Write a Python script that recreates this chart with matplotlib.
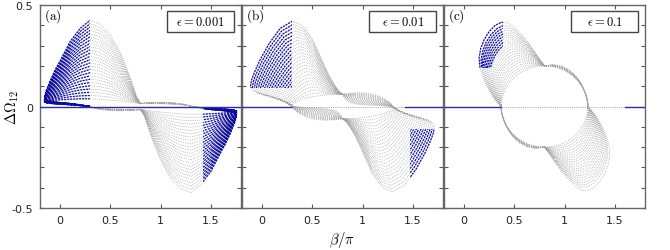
import numpy as np
import matplotlib
matplotlib.use('Agg')
import matplotlib.pyplot as plt
from matplotlib.patches import Rectangle

plt.rcParams['mathtext.fontset'] = 'cm'
plt.rcParams['axes.unicode_minus'] = False

# quarter of a unit ellipse, from the left vertex up to the top (5 deg steps)
arc_x = [-1.0, -0.9962, -0.9848, -0.9659, -0.9397, -0.9063, -0.8660, -0.8192, -0.7660, -0.7071,
         -0.6428, -0.5736, -0.5, -0.4226, -0.3420, -0.2588, -0.1736, -0.0872, 0.0]
arc_y = [0.0, 0.0872, 0.1736, 0.2588, 0.3420, 0.4226, 0.5, 0.5736, 0.6428, 0.7071,
         0.7660, 0.8192, 0.8660, 0.9063, 0.9397, 0.9659, 0.9848, 0.9962, 1.0]

eps_labels = ['0.001', '0.01', '0.1']
panel_tags = ['(a)', '(b)', '(c)']

# peak heights of the nested curves
levels_a = [0.040, 0.056, 0.072, 0.088, 0.104, 0.120, 0.136, 0.152, 0.168, 0.184, 0.200, 0.216, 0.232,
            0.248, 0.264, 0.280, 0.296, 0.312, 0.328, 0.344, 0.360, 0.376, 0.392, 0.408, 0.425]
levels_b = [0.060, 0.075, 0.090, 0.105, 0.120, 0.135, 0.150, 0.165, 0.180, 0.195, 0.210, 0.225, 0.240,
            0.255, 0.270, 0.285, 0.300, 0.315, 0.330, 0.345, 0.360, 0.375, 0.390, 0.405, 0.420]
levels_c = [0.200, 0.210, 0.220, 0.230, 0.240, 0.250, 0.260, 0.270, 0.280, 0.290, 0.300, 0.310,
            0.320, 0.330, 0.340, 0.350, 0.360, 0.370, 0.380, 0.390, 0.400, 0.415]

# outer loop of the upper family (beta/pi, dOmega12)
loop_a_x = [0.30, 0.12, -0.05, -0.13, -0.155, -0.14, -0.10, -0.05, 0.00, 0.10, 0.20, 0.30, 0.40, 0.50,
            0.60, 0.67, 0.72, 0.76, 0.80]
loop_a_y = [0.000, 0.014, 0.022, 0.030, 0.045, 0.075, 0.125, 0.180, 0.225, 0.320, 0.385, 0.425, 0.405,
            0.355, 0.265, 0.180, 0.110, 0.050, 0.015]
# innermost loop of panel (a)
inner_a_y = [0.000, 0.008, 0.013, 0.017, 0.021, 0.025, 0.028, 0.031, 0.033, 0.036, 0.038, 0.038, 0.036,
             0.032, 0.027, 0.023, 0.020, 0.017, 0.015]

loop_b_x = [0.30, 0.18, 0.05, -0.05, -0.10, -0.115, -0.105, -0.075, -0.02, 0.07, 0.18, 0.30, 0.40, 0.50,
            0.60, 0.66, 0.71, 0.76, 0.80]
loop_b_y = [0.000, 0.035, 0.055, 0.066, 0.080, 0.100, 0.130, 0.170, 0.230, 0.310, 0.385, 0.420, 0.400,
            0.335, 0.225, 0.160, 0.115, 0.078, 0.060]

loop_c_x = [0.37, 0.32, 0.27, 0.22, 0.18, 0.155, 0.150, 0.165, 0.20, 0.25, 0.31, 0.37, 0.43, 0.50,
            0.57, 0.63, 0.69, 0.75, 0.80]
loop_c_y = [0.000, 0.025, 0.060, 0.105, 0.150, 0.200, 0.240, 0.285, 0.330, 0.370, 0.400, 0.415, 0.412,
            0.390, 0.355, 0.320, 0.280, 0.235, 0.200]

# fan right of the junction: outer edge (and inner edge where it is not the hole arc)
fan_a_x = [0.80, 0.88, 0.96, 1.04, 1.11, 1.17, 1.22, 1.26, 1.285, 1.30]
fan_a_y = [0.015, 0.019, 0.021, 0.021, 0.019, 0.016, 0.012, 0.008, 0.004, 0.0]
fan_b_x = [0.80, 0.88, 0.96, 1.04, 1.11, 1.17, 1.22, 1.26, 1.285, 1.30]
fan_b_y = [0.060, 0.066, 0.068, 0.066, 0.060, 0.050, 0.038, 0.025, 0.012, 0.0]
fan_b_in_x = [0.80, 0.83, 0.87, 0.93, 1.00, 1.08, 1.15, 1.21, 1.26, 1.30]
fan_b_in_y = [0.060, 0.035, 0.020, 0.012, 0.008, 0.006, 0.004, 0.003, 0.001, 0.0]
fan_c_x = [0.80, 0.89, 0.97, 1.05, 1.11, 1.16, 1.195, 1.22, 1.232, 1.235]
fan_c_y = [0.200, 0.207, 0.200, 0.180, 0.152, 0.118, 0.082, 0.046, 0.018, 0.0]

# half width / half height of the central hole
hole_a = (0.5, 0.015)
hole_b = (0.5, 0.06)
hole_c = (0.43, 0.2)

GRAY = '#a3a3a3'
BLUE = '#0b0ba3'
CENTER = 0.8

panels = [
    dict(levels=levels_a, lx=loop_a_x, ly=loop_a_y, ix=loop_a_x, iy=inner_a_y,
         fx=fan_a_x, fy=fan_a_y, fix=None, fiy=None, fan_alpha=0.55, hole=hole_a,
         up_blue=(0.0, -1.0, 0.30, 0.0, 1.0), lo_blue=(0.0, 1.42, 3.0, -1.0, 0.0),
         zero_blue=[(-0.2, 1.8)], zero_gray=[]),
    dict(levels=levels_b, lx=loop_b_x, ly=loop_b_y, ix=None, iy=None,
         fx=fan_b_x, fy=fan_b_y, fix=fan_b_in_x, fiy=fan_b_in_y, fan_alpha=0.7, hole=hole_b,
         up_blue=(0.0, -1.0, 0.30, 0.09, 1.0), lo_blue=(0.0, 1.47, 3.0, -1.0, -0.11),
         zero_blue=[(-0.2, 0.30), (1.42, 1.8)], zero_gray=[(0.30, 1.42)]),
    dict(levels=levels_c, lx=loop_c_x, ly=loop_c_y, ix=None, iy=None,
         fx=fan_c_x, fy=fan_c_y, fix=None, fiy=None, fan_alpha=0.55, hole=hole_c,
         up_blue=(0.33, -1.0, 0.39, 0.19, 1.0), lo_blue=None,
         zero_blue=[(-0.2, 0.37), (1.6, 1.8)], zero_gray=[(0.37, 1.6)]),
]


def draw_curve(ax, x, y, blue, alpha=1.0):
    ax.plot(x, y, color=GRAY, lw=0.55, ls=(0, (1, 1.4)), alpha=alpha, zorder=2)
    if blue is not None:
        ln, = ax.plot(x, y, color=BLUE, lw=0.9, ls=(0, (1.6, 0.8)), zorder=2.5)
        x0, x1, y0, y1 = blue
        ln.set_clip_path(Rectangle((x0, y0), x1 - x0, y1 - y0, transform=ax.transData))


fig = plt.figure(figsize=(6.7, 2.51), dpi=100)
lefts = [40, 242, 444]
for k, p in enumerate(panels):
    ax = fig.add_axes([lefts[k] / 670, 42 / 251, 201 / 670, 203 / 251])
    hw, hh = p['hole']
    ax_arc = np.array(arc_x)
    ay_arc = np.array(arc_y)
    if p['ix'] is None:
        ix = CENTER + hw * ax_arc
        iy = hh * ay_arc
    else:
        ix = np.array(p['ix'])
        iy = np.array(p['iy'])
    ox, oy = np.array(p['lx']), np.array(p['ly'])
    if p['fix'] is None:
        # inner edge of the fan is the hole's upper right arc (every other point)
        fix = CENTER - hw * ax_arc[::-2]
        fiy = hh * ay_arc[::-2]
    else:
        fix, fiy = np.array(p['fix']), np.array(p['fiy'])
    fox, foy = np.array(p['fx']), np.array(p['fy'])

    lv = p['levels']
    for h in lv:
        t = (h - lv[0]) / (lv[-1] - lv[0])
        x = ix + t * (ox - ix)
        y = iy + t * (oy - iy)
        fx = fix + t * (fox - fix)
        fy = fiy + t * (foy - fiy)
        ub = p['up_blue']
        up = ub[1:] if (ub is not None and h >= ub[0]) else None
        lb = p['lo_blue']
        lo = lb[1:] if (lb is not None and h >= lb[0]) else None
        draw_curve(ax, x, y, up)
        draw_curve(ax, fx, fy, None, alpha=p['fan_alpha'])
        # lower family: point reflection about (0.8, 0)
        draw_curve(ax, 2 * CENTER - x, -y, lo)
        draw_curve(ax, 2 * CENTER - fx, -fy, None, alpha=p['fan_alpha'])

    for a, b in p['zero_blue']:
        ax.plot([a, b], [0, 0], color='#2b2bb0', lw=1.0, zorder=3)
    for a, b in p['zero_gray']:
        ax.plot([a, b], [0, 0], color=GRAY, lw=0.7, ls=(0, (1, 1.2)), zorder=3)

    ax.set_xlim(-0.2, 1.8)
    ax.set_ylim(-0.5, 0.5)
    ax.set_xticks([0, 0.5, 1, 1.5])
    ax.set_xticklabels(['0', '0.5', '1', '1.5'])
    ax.set_yticks(np.round(np.arange(-0.5, 0.51, 0.1), 2))
    if k == 0:
        ax.set_yticklabels(['-0.5', '', '', '', '', '0', '', '', '', '', '0.5'])
    else:
        ax.set_yticklabels([])
    ax.tick_params(direction='in', top=True, right=True, length=3, width=0.8,
                   color='#555555', labelsize=8, labelcolor='#222222', pad=5)
    for s in ax.spines.values():
        s.set_color('#666666')
        s.set_linewidth(1.0)

    ax.text(0.02, 0.948, r'$\rm ' + panel_tags[k] + '$', transform=ax.transAxes,
            ha='left', va='center', fontsize=9.5)
    ax.add_patch(Rectangle((0.632, 0.865), 0.335, 0.105, transform=ax.transAxes,
                           fc='white', ec='#444444', lw=1.0, zorder=5))
    ax.text(0.80, 0.918, r'$\epsilon = ' + eps_labels[k] + '$', transform=ax.transAxes,
            ha='center', va='center', fontsize=9, zorder=6)

fig.text(12 / 670, 1 - 107 / 251, r'$\Delta\Omega_{12}$', rotation=90, ha='center', va='center', fontsize=10.5)
fig.text(342 / 670, 1 - 240 / 251, r'$\beta/\pi$', ha='center', va='center', fontsize=10.5)

fig.savefig('out.png', dpi=100)
